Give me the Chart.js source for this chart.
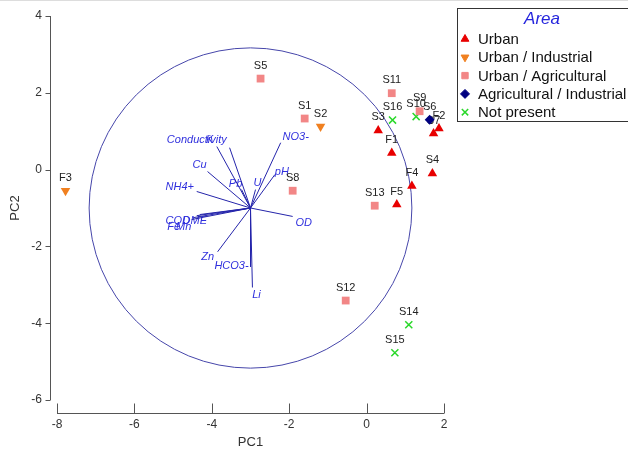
<!DOCTYPE html>
<html>
<head>
<meta charset="utf-8">
<script src="https://cdn.jsdelivr.net/npm/chart.js@4.4.0/dist/chart.umd.min.js"></script>
<style>
    html, body { margin: 0; padding: 0; background: #fff; }
    #wrap { width: 628px; height: 453px; border-top: 1px solid #ddd; box-sizing: border-box; }
</style>
</head>
<body>
<div id="wrap"><canvas id="pcaChart" width="628" height="452"></canvas></div>
<script>
// sample scores (PC1, PC2) by area
const urbanIds = ['F1', 'F2', 'F4', 'F5', 'S3', 'S4', 'S7'];
const urbanPC1 = [0.65, 1.87, 1.17, 0.78, 0.30, 1.70, 1.73];
const urbanPC2 = [0.43, 1.07, -0.43, -0.91, 1.02, -0.10, 0.94];

const urbIndIds = ['F3', 'S2'];
const urbIndPC1 = [-7.78, -1.19];
const urbIndPC2 = [-0.55, 1.12];

const urbAgrIds = ['S1', 'S5', 'S8', 'S9', 'S11', 'S12', 'S13'];
const urbAgrPC1 = [-1.60, -2.74, -1.91, 1.37, 0.65, -0.54, 0.21];
const urbAgrPC2 = [1.33, 2.37, -0.55, 1.52, 1.99, -3.41, -0.94];

const agrIndIds = ['S6'];
const agrIndPC1 = [1.63];
const agrIndPC2 = [1.30];

const notPresIds = ['S10', 'S14', 'S15', 'S16'];
const notPresPC1 = [1.28, 1.09, 0.73, 0.67];
const notPresPC2 = [1.38, -4.04, -4.77, 1.29];

// loading vectors, drawn from the biplot centre
const biplotCenter = [-3.0, -1.0];
const circleRadius = 4.17;
const loadingNames = ['Conductivity', 'K', 'NO3-', 'Cu', 'pH', 'Pb', 'U', 'NH4+', 'OD', 'COD', 'DME', 'Mn', 'Fe', 'Zn', 'HCO3-', 'Li'];
const loadingPC1 = [-3.87, -3.54, -2.22, -4.11, -2.37, -3.23, -2.87, -4.39, -1.91, -4.52, -4.31, -4.47, -4.39, -3.85, -3.00, -2.95];
const loadingPC2 = [0.60, 0.57, 0.70, -0.05, -0.13, -0.52, -0.52, -0.57, -1.22, -1.30, -1.17, -1.25, -1.20, -2.14, -2.53, -3.07];

const xTicks = [-8, -6, -4, -2, 0, 2];
const yTicks = [-6, -4, -2, 0, 2, 4];

// label nudges (px)
const loadingLabelShift = {
    'Conductivity': [-20, -7], 'K': [-20, -8], 'NO3-': [15, -6], 'Cu': [-8, -7],
    'pH': [7, -3], 'Pb': [-6, -6], 'U': [2, -7], 'NH4+': [-17, -5], 'OD': [11, 6],
    'COD': [-14, 1], 'DME': [-5, 6], 'Mn': [-10, 9], 'Fe': [-23, 11],
    'Zn': [-10, 5], 'HCO3-': [-19, -1], 'Li': [4, 7]
};

function pts(a, b) { return a.map((v, i) => ({ x: v, y: b[i] })); }

const groups = [
    { label: 'Urban', ids: urbanIds, data: pts(urbanPC1, urbanPC2), color: '#e80000', style: 'triangle', rot: 0, r: 5.5 },
    { label: 'Urban / Industrial', ids: urbIndIds, data: pts(urbIndPC1, urbIndPC2), color: '#f08020', style: 'triangle', rot: 180, r: 5.5 },
    { label: 'Urban / Agricultural', ids: urbAgrIds, data: pts(urbAgrPC1, urbAgrPC2), color: '#f28686', style: 'rect', rot: 0, r: 5.5 },
    { label: 'Agricultural / Industrial', ids: agrIndIds, data: pts(agrIndPC1, agrIndPC2), color: '#000080', style: 'rectRot', rot: 0, r: 5 },
    { label: 'Not present', ids: notPresIds, data: pts(notPresPC1, notPresPC2), color: '#2ad82a', style: 'crossRot', rot: 0, r: 5 }
];

const datasets = groups.map(g => ({
    label: g.label,
    data: g.data,
    ids: g.ids,
    pointStyle: g.style,
    pointRotation: g.rot,
    pointRadius: g.r,
    backgroundColor: g.color,
    borderColor: g.color,
    borderWidth: g.style === 'crossRot' ? 1.5 : 0,
    order: 0
}));

loadingNames.forEach((n, i) => {
    datasets.push({
        label: n,
        data: [{ x: biplotCenter[0], y: biplotCenter[1] }, { x: loadingPC1[i], y: loadingPC2[i] }],
        showLine: true,
        borderColor: '#2424aa',
        borderWidth: 1,
        pointRadius: 0,
        order: 10
    });
});

const biplotPlugin = {
    id: 'biplot',
    beforeDatasetsDraw(chart) {
        const { ctx, scales: { x, y } } = chart;
        ctx.save();
        // correlation circle
        const cx = x.getPixelForValue(biplotCenter[0]);
        const cy = y.getPixelForValue(biplotCenter[1]);
        const rx = x.getPixelForValue(biplotCenter[0] + circleRadius) - cx;
        const ry = cy - y.getPixelForValue(biplotCenter[1] + circleRadius);
        ctx.strokeStyle = '#4646aa';
        ctx.lineWidth = 1;
        ctx.beginPath();
        ctx.ellipse(cx, cy, rx, ry, 0, 0, Math.PI * 2);
        ctx.stroke();

        // loading labels
        ctx.font = 'italic 11px Arial';
        ctx.fillStyle = '#3030dd';
        ctx.textAlign = 'center';
        ctx.textBaseline = 'middle';
        loadingNames.forEach((n, i) => {
            const s = loadingLabelShift[n] || [0, 0];
            ctx.fillText(n, x.getPixelForValue(loadingPC1[i]) + s[0], y.getPixelForValue(loadingPC2[i]) + s[1]);
        });

        // sample labels
        ctx.font = '11px Arial';
        ctx.fillStyle = '#222';
        chart.data.datasets.forEach((ds, di) => {
            if (!ds.ids) return;
            const meta = chart.getDatasetMeta(di);
            meta.data.forEach((el, j) => {
                ctx.fillText(ds.ids[j], el.x, el.y - 13);
            });
        });
        ctx.restore();
    },
    afterDraw(chart) {
        const { ctx, chartArea, scales: { x, y } } = chart;
        ctx.save();
        ctx.strokeStyle = '#555';
        ctx.lineWidth = 1;
        // x axis, detached below the plot, ticks pointing up
        const ay = Math.round(chartArea.bottom + 13) + 0.5;
        ctx.beginPath();
        ctx.moveTo(x.getPixelForValue(xTicks[0]), ay);
        ctx.lineTo(x.getPixelForValue(xTicks[xTicks.length - 1]), ay);
        xTicks.forEach(t => {
            const px = Math.round(x.getPixelForValue(t)) + 0.5;
            ctx.moveTo(px, ay);
            ctx.lineTo(px, ay - 10);
        });
        // y axis, detached left of the plot, ticks pointing out
        const ax = Math.round(chartArea.left - 7) + 0.5;
        ctx.moveTo(ax, y.getPixelForValue(yTicks[yTicks.length - 1]));
        ctx.lineTo(ax, y.getPixelForValue(yTicks[0]));
        yTicks.forEach(t => {
            const py = Math.round(y.getPixelForValue(t)) + 0.5;
            ctx.moveTo(ax, py);
            ctx.lineTo(ax - 5, py);
        });
        ctx.stroke();

        // legend box
        const lx = 457, ly = 7;
        ctx.strokeStyle = '#333';
        ctx.strokeRect(lx + 0.5, ly + 0.5, 200, 113);
        ctx.font = 'italic 17px Arial';
        ctx.fillStyle = '#2525dd';
        ctx.textAlign = 'center';
        ctx.textBaseline = 'middle';
        ctx.fillText('Area', 542, 18);
        ctx.font = '15px Arial';
        ctx.textAlign = 'left';
        groups.forEach((g, i) => {
            const iy = 38 + i * 18.3;
            ctx.fillStyle = g.color;
            ctx.strokeStyle = g.color;
            ctx.lineWidth = g.style === 'crossRot' ? 1.5 : 0;
            Chart.helpers.drawPoint(ctx, { pointStyle: g.style, rotation: g.rot, radius: 4.5, borderWidth: ctx.lineWidth }, 465, iy);
            ctx.fillStyle = '#111';
            ctx.fillText(g.label, 478, iy + 1);
        });
        ctx.restore();
    }
};

new Chart(document.getElementById('pcaChart'), {
    type: 'scatter',
    data: { datasets: datasets },
    options: {
        responsive: false,
        devicePixelRatio: 1,
        animation: false,
        layout: { padding: { top: 15, right: 184, left: 0, bottom: 0 } },
        plugins: { legend: { display: false }, tooltip: { enabled: false } },
        scales: {
            x: {
                type: 'linear', min: -8, max: 2,
                afterFit(s) { s.height = 53; s.paddingLeft = 0; s.paddingRight = 0; },
                afterBuildTicks(s) { s.ticks = xTicks.map(v => ({ value: v })); },
                grid: { display: false, drawTicks: false },
                border: { display: false },
                ticks: { padding: 17, color: '#333', font: { family: 'Arial', size: 12 } },
                title: { display: true, text: 'PC1', color: '#333', font: { family: 'Arial', size: 13 }, padding: { top: 4, bottom: 3 } }
            },
            y: {
                type: 'linear', min: -6, max: 4,
                afterFit(s) { s.width = 57; s.paddingTop = 0; s.paddingBottom = 0; },
                afterBuildTicks(s) { s.ticks = yTicks.map(v => ({ value: v })); },
                grid: { display: false, drawTicks: false },
                border: { display: false },
                ticks: { padding: 15, color: '#333', font: { family: 'Arial', size: 12 } },
                title: { display: true, text: 'PC2', color: '#333', font: { family: 'Arial', size: 13 }, padding: { top: 8, bottom: 4 } }
            }
        }
    },
    plugins: [biplotPlugin]
});
</script>
</body>
</html>
